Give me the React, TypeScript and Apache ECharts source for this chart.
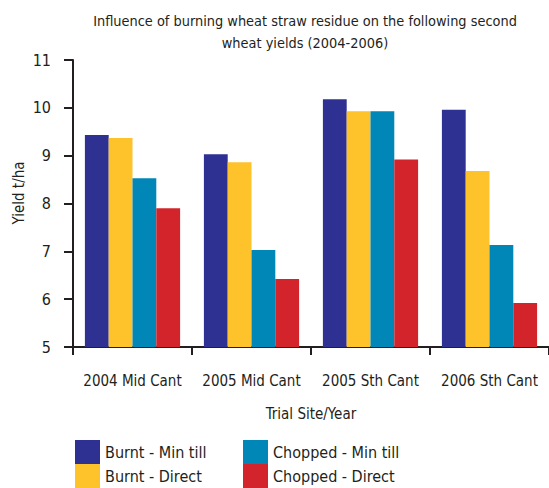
import React, { useEffect, useRef } from "react";
import * as echarts from "echarts";

const categories = ["2004 Mid Cant", "2005 Mid Cant", "2005 Sth Cant", "2006 Sth Cant"];
const burntMinTill = [9.43, 9.03, 10.18, 9.96];
const burntDirect = [9.37, 8.86, 9.93, 8.68];
const choppedMinTill = [8.53, 7.03, 9.93, 7.13];
const choppedDirect = [7.9, 6.42, 8.92, 5.92];
const seriesNames = ["Burnt - Min till", "Burnt - Direct", "Chopped - Min till", "Chopped - Direct"];
const colors = ["#2e3192", "#fec22a", "#0086b7", "#d3242b"];

const FONT = "'DejaVu Sans Condensed', sans-serif";
const TXT = "#231f20";

export default function App() {
  const ref = useRef<HTMLDivElement>(null);
  useEffect(() => {
    if (!ref.current) return;
    const chart = echarts.init(ref.current, null, { renderer: "svg" });
    const values = [burntMinTill, burntDirect, choppedMinTill, choppedDirect];
    const legendCommon = {
      orient: "vertical",
      top: 440,
      itemGap: 0,
      itemWidth: 25,
      itemHeight: 24,
      icon: "rect",
      padding: 0,
      textStyle: { fontFamily: FONT, fontSize: 16, color: TXT },
    };
    chart.setOption({
      animation: false,
      textStyle: { fontFamily: FONT, color: TXT },
      title: {
        text: "Influence of burning wheat straw residue on the following second\nwheat yields (2004-2006)",
        left: 300,
        top: 5,
        textAlign: "center",
        textStyle: { fontFamily: FONT, fontSize: 14.4, fontWeight: "normal", color: TXT, lineHeight: 22 },
      },
      legend: [
        { ...legendCommon, data: [seriesNames[0], seriesNames[1]], left: 75 },
        { ...legendCommon, data: [seriesNames[2], seriesNames[3]], left: 243 },
      ],
      grid: { left: 73, right: -10, top: 60, bottom: 141, containLabel: false },
      xAxis: {
        type: "category",
        data: categories,
        name: "Trial Site/Year",
        nameLocation: "middle",
        nameGap: 59,
        nameTextStyle: { fontFamily: FONT, fontSize: 15, color: TXT },
        axisLine: { lineStyle: { color: TXT, width: 2 } },
        axisTick: { show: true, length: 8, lineStyle: { color: TXT, width: 2 } },
        axisLabel: { fontFamily: FONT, fontSize: 15, color: TXT, margin: 26, interval: 0 },
      },
      yAxis: {
        type: "value",
        min: 5,
        max: 11,
        interval: 1,
        axisLine: { show: true, lineStyle: { color: TXT, width: 2 } },
        axisTick: { show: true, length: 9, lineStyle: { color: TXT, width: 2 } },
        axisLabel: { fontFamily: FONT, fontSize: 16, color: TXT, margin: 22 },
        splitLine: { show: false },
      },
      graphic: [
        {
          type: "text",
          x: 19,
          y: 193,
          rotation: Math.PI / 2,
          style: {
            text: "Yield t/ha",
            fontFamily: FONT,
            fontSize: 15,
            fill: TXT,
            textAlign: "center",
            textVerticalAlign: "middle",
          },
        },
      ],
      series: seriesNames.map((name, i) => ({
        name,
        type: "bar",
        data: values[i],
        barGap: "0%",
        barCategoryGap: "20%",
        itemStyle: { color: colors[i] },
      })),
    });
    return () => chart.dispose();
  }, []);
  return <div ref={ref} style={{ width: 549, height: 488, position: "absolute", left: 0, top: 0 }} />;
}
